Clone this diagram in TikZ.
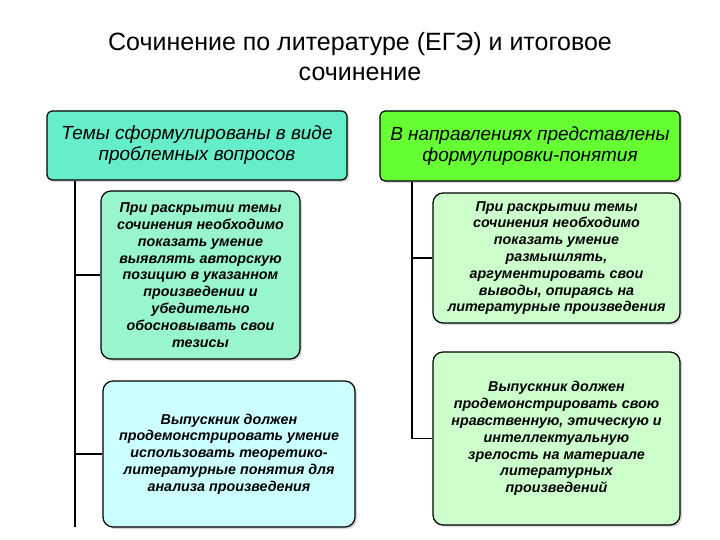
\documentclass[tikz,border=0pt]{standalone}
\usepackage{fontspec}
\setmainfont{Liberation Sans}
\usetikzlibrary{shadows}
\definecolor{tealh}{HTML}{66EEC8}
\definecolor{tealc}{HTML}{99F5CC}
\definecolor{cyanc}{HTML}{CCFFFF}
\definecolor{greenh}{HTML}{66FF33}
\definecolor{greenc}{HTML}{CCFFCC}
\tikzset{x=1pt,y=-1pt,
 hbox/.style={draw=black,line width=1.2pt,rounded corners=5pt,align=center,font=\itshape\fontsize{19}{21}\selectfont,drop shadow={shadow xshift=2pt,shadow yshift=-2pt,opacity=0.3}},
 cbox/.style={draw=black,line width=1.2pt,rounded corners=10pt,align=center,font=\bfseries\itshape\fontsize{14.3}{16.8}\selectfont,drop shadow={shadow xshift=2pt,shadow yshift=-2pt,opacity=0.3}},
 conn/.style={line width=1.3pt}}
\begin{document}
\begin{tikzpicture}
\useasboundingbox (0,0) rectangle (720,540);
\node[font=\fontsize{25}{30}\selectfont,align=center] (title) at (360,57) {Сочинение по литературе (ЕГЭ) и итоговое\\сочинение};
\node[hbox,fill=tealh,minimum width=300,minimum height=69] (lh) at (197,145.5) {Темы сформулированы в виде\\проблемных вопросов};
\node[hbox,fill=greenh,minimum width=300,minimum height=70] (rh) at (530,146) {В направлениях представлены\\формулировки-понятия};
\node[cbox,fill=tealc,minimum width=199,minimum height=168] (l1) at (200.5,275) {При раскрытии темы\\сочинения необходимо\\показать умение\\выявлять авторскую\\позицию в указанном\\произведении и\\убедительно\\обосновывать свои\\тезисы};
\node[cbox,fill=cyanc,minimum width=252,minimum height=146] (l2) at (229,454) {Выпускник должен\\продемонстрировать умение\\использовать теоретико-\\литературные понятия для\\анализа произведения};
\node[cbox,fill=greenc,minimum width=247,minimum height=130] (r1) at (556.5,258) {При раскрытии темы\\сочинения необходимо\\показать умение\\размышлять,\\аргументировать свои\\выводы, опираясь на\\литературные произведения};
\node[cbox,fill=greenc,minimum width=247,minimum height=173] (r2) at (556.5,438.5) {Выпускник должен\\продемонстрировать свою\\нравственную, этическую и\\интеллектуальную\\зрелость на материале\\литературных\\произведений};
\coordinate (lb) at (75,527);
\coordinate (rb) at (412,438.5);
\draw[conn] (lh.south -| lb) -- (lb);
\draw[conn] (l1.west -| lb) -- (l1.west);
\draw[conn] (l2.west -| lb) -- (l2.west);
\draw[conn] (rh.south -| rb) -- (rb);
\draw[conn] (r1.west -| rb) -- (r1.west);
\draw[conn] (rb) -- (r2.west);
\end{tikzpicture}
\end{document}
